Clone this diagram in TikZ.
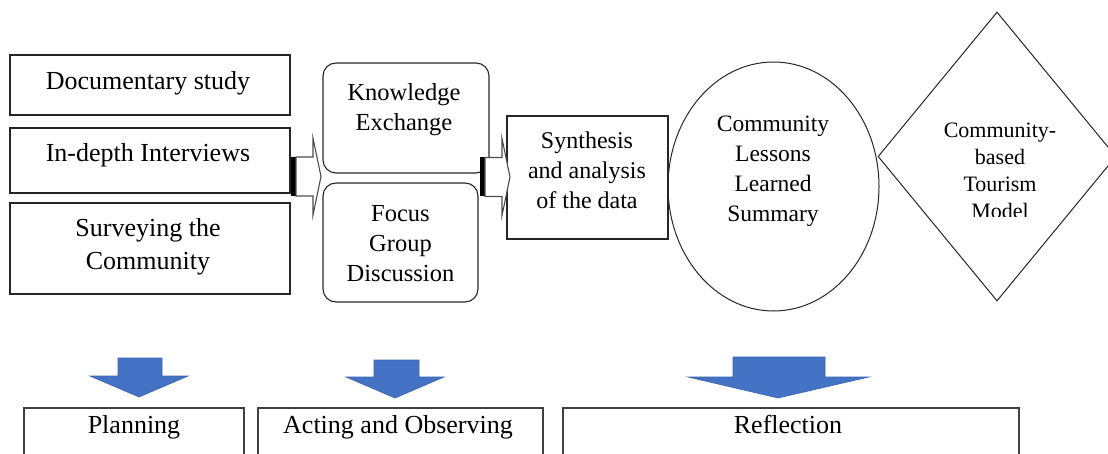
\documentclass[tikz,border=0pt]{standalone}
\usepackage{fontspec}
\setmainfont{Liberation Serif}
\usetikzlibrary{shapes.geometric}
\definecolor{arrowblue}{HTML}{4472C4}
\definecolor{arrowedge}{HTML}{3A62AE}
\definecolor{boxedge}{HTML}{404040}

\begin{document}
\begin{tikzpicture}[x=1pt,y=-1pt,
  plainbox/.style={draw=black!85, line width=1.2pt, inner sep=0pt},
  roundbox/.style={draw=black!85, line width=1.1pt, rounded corners=13pt, inner sep=0pt},
  stagebox/.style={draw=boxedge, line width=1.6pt, inner sep=0pt},
  thinshape/.style={draw=black!85, line width=1pt, inner sep=0pt},
  txt/.style={inner sep=0pt, align=center},
  big/.style={font=\fontsize{26}{33}\selectfont},
  mid/.style={font=\fontsize{24.5}{30}\selectfont},
  small/.style={font=\fontsize{22}{27}\selectfont},
  bluearrow/.style={fill=arrowblue, draw=arrowedge, line width=0.6pt, line join=miter},
  hollow arrow/.pic={
    \fill[black] (0,-19.5) rectangle (5,19.5);
    \draw[fill=white, draw=black!70, line width=1.1pt, line join=miter]
      (5,-19.5) -- (22,-19.5) -- (22,-38.5) -- (30,0) -- (22,38.5)
      -- (22,19.5) -- (5,19.5) -- cycle;
  }
]
\useasboundingbox (0,0) rectangle (1108,454);

% data collection methods
\node[plainbox, minimum width=280, minimum height=60] (doc)  at (150,85)    {};
\node[plainbox, minimum width=280, minimum height=65] (intv) at (150,160.5) {};
\node[plainbox, minimum width=280, minimum height=91] (surv) at (150,248.5) {};
\node[txt, big, anchor=base] (doct)  at (148,90)  {Documentary study};
\node[txt, big, anchor=base] (intvt) at (148,162) {In-depth Interviews};
\node[txt, big] (survt) at (148,247) {Surveying the\\Community};

% exchange activities
\node[roundbox, minimum width=166, minimum height=110] (know) at (406,118)   {};
\node[roundbox, minimum width=155, minimum height=119] (fgd)  at (400.5,242.5) {};
\node[txt, mid] (knowt) at (404,109.5) {Knowledge\\Exchange};
\node[txt, mid] (fgdt)  at (400.5,244) {Focus\\Group\\Discussion};

% synthesis
\node[plainbox, minimum width=161, minimum height=123] (synth) at (587.5,177.5) {};
\node[txt, font=\fontsize{24}{30}\selectfont] (syntht) at (587,170) {Synthesis\\and analysis\\of the data};

% lessons learned
\node[thinshape, ellipse, minimum width=211, minimum height=249] (less) at (773.5,186.5) {};
\node[txt, font=\fontsize{23.5}{30}\selectfont] (lesst) at (773,171.5)
  {Community\\Lessons\\Learned\\Summary};

% resulting model
\node[thinshape, diamond, minimum width=238, minimum height=289] (model) at (997,156.5) {};
\begin{scope}
  \clip (880,20) rectangle (1108,217);
  \node[txt, small] (modelt) at (1000,171) {Community-\\based\\Tourism\\Model};
\end{scope}

% block arrows between the stages
\pic at (291,176.5) {hollow arrow};
\pic at (480,177)   {hollow arrow};

% action research cycle
\filldraw[bluearrow] (118,358) -- (162,358) -- (162,376) -- (188,376)
  -- (139,397) -- (90,376) -- (118,376) -- cycle;
\filldraw[bluearrow] (374,360) -- (419,360) -- (419,377) -- (444,377)
  -- (395,398) -- (346,377) -- (374,377) -- cycle;
\filldraw[bluearrow] (733,357) -- (825,357) -- (825,377) -- (869,377)
  -- (778,398) -- (688,377) -- (733,377) -- cycle;

\node[stagebox, minimum width=220, minimum height=72] (plan) at (134,444)   {};
\node[stagebox, minimum width=285, minimum height=72] (act)  at (400.5,444) {};
\node[stagebox, minimum width=456, minimum height=72] (refl) at (791,444)   {};
\node[txt, big, anchor=base] (plant) at (134,433) {Planning};
\node[txt, big, anchor=base] (actt)  at (398,433) {Acting and Observing};
\node[txt, big, anchor=base] (reflt) at (788,433) {Reflection};
\end{tikzpicture}
\end{document}
